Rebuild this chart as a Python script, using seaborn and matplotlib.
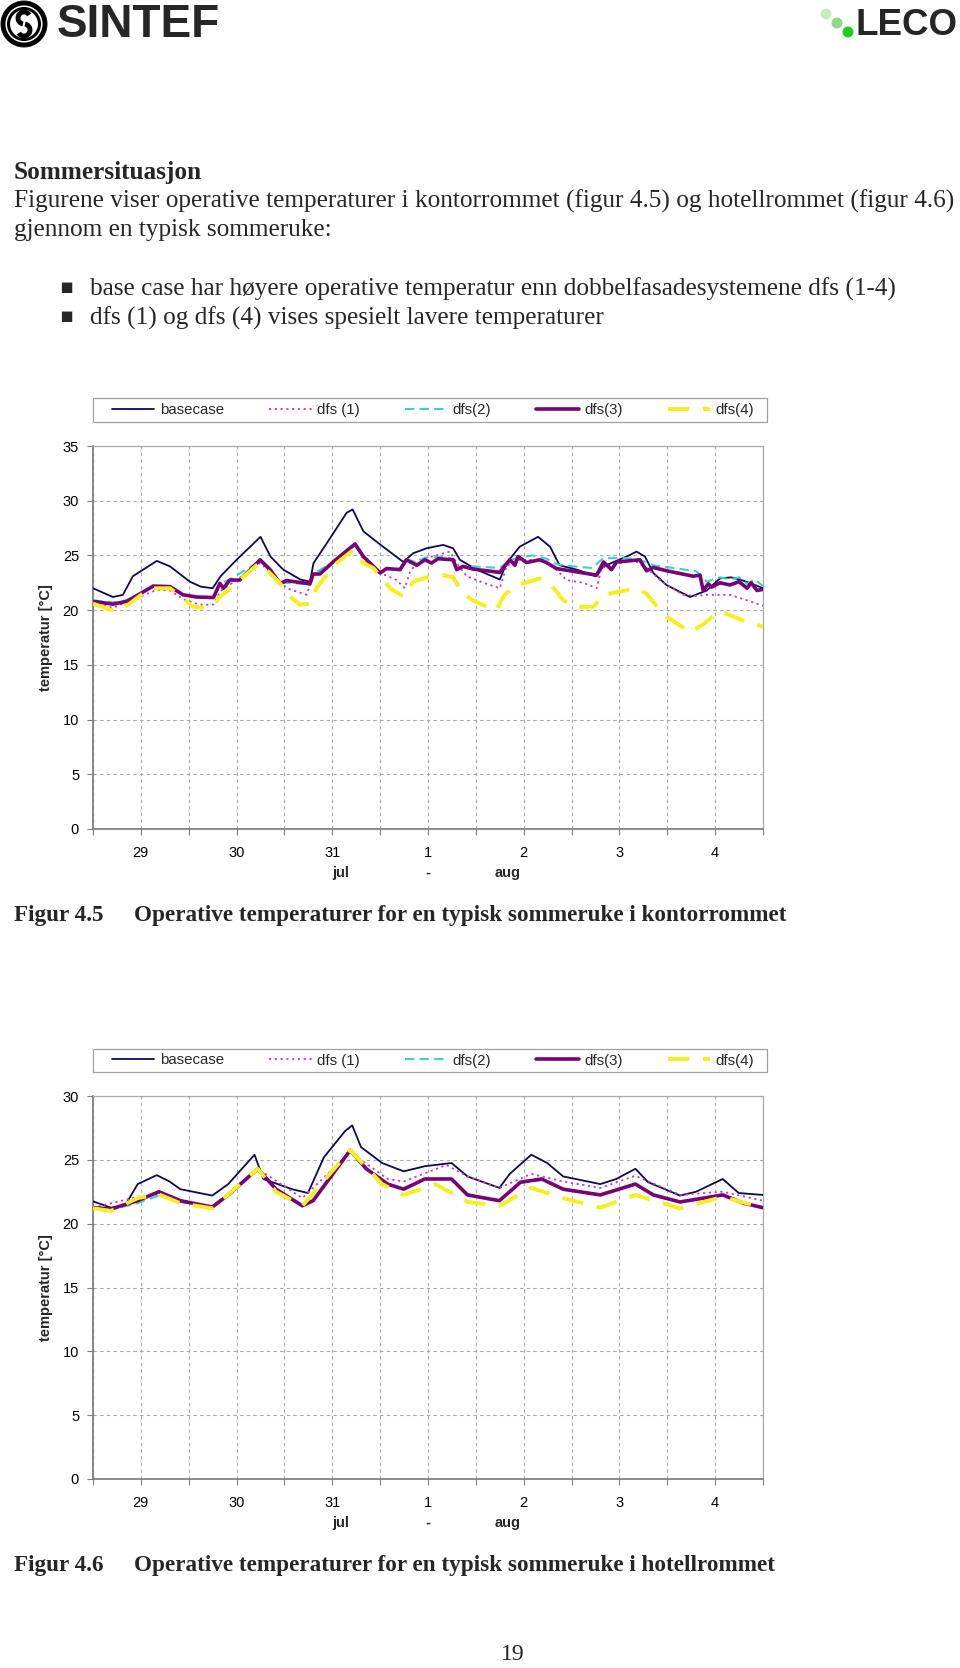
import numpy as np
import pandas as pd
import matplotlib
matplotlib.use("Agg")
import matplotlib.pyplot as plt
from matplotlib.patches import Circle, Arc, Rectangle
from matplotlib.lines import Line2D
import seaborn as sns

# ---- data: operative temperature [C], hours from 29 jul 00:00 ----
# figur 4.5 kontorrommet
kontor_base_t = [0, 5, 7.5, 10, 16, 19.3, 24.3, 27, 30, 32, 36, 42, 44.5, 47.7, 52, 54.4, 55.3, 58.6, 63.6, 65.1,
                 67.8, 72, 77.8, 80.3, 83.6, 87.8, 90.3, 92, 96.2, 102, 103.7, 107, 111.6, 114.6, 117, 121.3, 126,
                 128, 133.8, 136.3, 138.4, 140.5, 143.8, 149.7, 153.9, 157.2, 160, 163, 166, 168]
kontor_base_T = [22.0, 21.2, 21.4, 23.1, 24.5, 24.0, 22.6, 22.15, 22.0, 23.1, 24.6, 26.7, 24.9, 23.7, 22.8, 22.6,
                 24.3, 26.1, 28.9, 29.2, 27.2, 26.0, 24.4, 25.2, 25.65, 25.96, 25.65, 24.6, 23.7, 22.8, 24.3, 25.8,
                 26.7, 25.8, 24.1, 23.7, 23.1, 24.0, 24.9, 25.35, 24.9, 23.4, 22.3, 21.2, 21.8, 22.9, 23.0, 22.7,
                 22.3, 22.0]

kontor_dfs1_t = [0, 5, 10, 16, 19.3, 22.6, 26.8, 30.2, 31.8, 36, 41.9, 45.2, 48.6, 53.6, 55.2, 58.6, 65.7, 67.8,
                 72, 76.1, 78.2, 79.5, 82, 89.5, 91.2, 93.7, 97.9, 102, 103.7, 106.2, 112.8, 116.2, 118.7, 122.9,
                 126.3, 127.5, 135.5, 138.8, 143, 148, 151.3, 153.9, 159.7, 164, 168]
kontor_dfs1_T = [20.8, 20.2, 21.0, 21.85, 21.8, 21.0, 20.5, 20.5, 21.7, 22.75, 24.3, 23.2, 22.0, 21.4, 23.2, 24.0,
                 25.9, 24.7, 23.4, 22.75, 22.0, 23.55, 24.6, 25.35, 24.3, 23.1, 22.5, 22.0, 24.0, 24.6, 24.6, 23.7,
                 22.75, 22.5, 22.0, 23.85, 24.6, 23.85, 22.5, 21.4, 21.3, 21.4, 21.4, 20.9, 20.4]

kontor_dfs2_t = [0, 5, 8.4, 11.8, 15.1, 19.3, 22.6, 26, 30.2, 31.8, 34.3, 41.9, 44.4, 46.9, 54.4, 55.2, 60.2, 65.7,
                 67.8, 72, 73.6, 77, 78.6, 81.2, 83.2, 86.5, 90.3, 91.2, 95.3, 102, 104.5, 110.3, 113.7, 116.2,
                 120.4, 125.1, 128, 133.8, 137.1, 140.5, 145.5, 151.3, 153.9, 157.2, 159.7, 162, 164, 166, 168]
kontor_dfs2_T = [20.9, 20.7, 20.9, 21.5, 22.2, 22.1, 21.4, 21.2, 21.2, 22.4, 22.8, 24.5, 23.7, 22.5, 22.4, 23.3,
                 24.4, 25.9, 24.9, 23.4, 23.8, 23.8, 24.7, 24.3, 24.8, 24.9, 24.7, 23.9, 24.0, 23.85, 24.6, 25.0,
                 24.7, 24.2, 24.0, 23.85, 24.75, 24.75, 24.6, 24.1, 23.85, 23.55, 22.6, 23.0, 22.8, 23.0, 22.4,
                 22.8, 22.2]

kontor_dfs3_t = [0, 5, 8.4, 11.8, 15.1, 19.3, 22.6, 26, 30.2, 31.8, 32.7, 34.3, 36.8, 41.9, 44.4, 46.9, 48.6, 54.4,
                 55.2, 56.9, 60.2, 65.7, 67.8, 72, 73.6, 77, 78.6, 81.2, 83.2, 84.9, 86.5, 90.3, 91.2, 92.8, 95.3,
                 102, 104.5, 105.8, 106.6, 108.7, 112, 113.7, 116.2, 126.3, 128, 130, 131.3, 137.1, 138.8, 140.5,
                 143.8, 150.5, 152.2, 153, 154.3, 155.1, 157.2, 159.7, 162, 164, 165, 166.5, 168]
kontor_dfs3_T = [20.8, 20.55, 20.8, 21.5, 22.2, 22.15, 21.4, 21.2, 21.15, 22.45, 22.0, 22.75, 22.75, 24.6, 23.7,
                 22.45, 22.7, 22.4, 23.3, 23.3, 24.4, 26.05, 24.9, 23.4, 23.8, 23.7, 24.6, 24.1, 24.6, 24.3, 24.7,
                 24.6, 23.7, 24.0, 23.75, 23.45, 24.6, 24.1, 24.9, 24.35, 24.6, 24.35, 23.8, 23.2, 24.4, 23.7, 24.4,
                 24.6, 23.6, 23.9, 23.6, 23.1, 23.2, 21.8, 22.4, 22.1, 22.5, 22.3, 22.6, 22.0, 22.5, 21.8, 21.9]

kontor_dfs4_t = [0, 5.9, 9.2, 14.2, 19.3, 22.6, 25.1, 28.4, 30.6, 31.8, 33.5, 41, 41.9, 46.9, 49.4, 51.9, 54.4, 56,
                 58.6, 61.1, 65.3, 67.8, 70.3, 74.5, 77.8, 80.3, 84.5, 87.8, 90.3, 92.8, 95.3, 98.7, 101.2, 102.9,
                 105.4, 107.9, 112, 114.6, 117.9, 121.3, 125.5, 128, 132.1, 136.3, 138.8, 142.2, 143.8, 149.7, 153,
                 157, 160, 164, 168]
kontor_dfs4_T = [20.6, 19.85, 20.6, 22.0, 22.0, 21.1, 20.3, 20.2, 20.6, 21.25, 21.7, 24.1, 24.3, 22.45, 21.25, 20.5,
                 20.6, 22.0, 23.2, 24.3, 25.5, 24.3, 23.85, 22.0, 21.25, 22.6, 23.1, 23.2, 23.0, 21.5, 20.9, 20.3,
                 20.0, 21.25, 22.15, 22.45, 22.9, 22.45, 20.9, 20.3, 20.3, 21.4, 21.7, 22.0, 21.5, 20.0, 19.4, 18.0,
                 18.7, 19.9, 19.5, 18.9, 18.5]

# figur 4.6 hotellrommet
hotell_base_t = [0, 4.5, 8, 11.2, 16, 19.2, 21.9, 29.9, 33.9, 40.5, 42.7, 49.9, 53.9, 57.9, 63.2, 65, 67.2, 72.5,
                 77.9, 83.2, 89.9, 93.9, 101.9, 104.5, 109.9, 113.9, 117.9, 127.2, 131.2, 136, 139.2, 147.2, 151.2,
                 157.9, 161.9, 168]
hotell_base_T = [21.75, 21.25, 21.4, 23.1, 23.8, 23.3, 22.7, 22.2, 23.1, 25.4, 23.5, 22.7, 22.4, 25.2, 27.25, 27.7,
                 26.0, 24.75, 24.1, 24.5, 24.75, 23.7, 22.8, 23.9, 25.4, 24.75, 23.7, 23.1, 23.5, 24.3, 23.25, 22.2,
                 22.5, 23.5, 22.4, 22.25]

hotell_dfs1_t = [0, 11.2, 16.5, 21.9, 29.9, 41.3, 52.5, 64.5, 73.9, 77.9, 88.6, 93.9, 101.9, 109.9, 117.9, 127.2,
                 136, 147.2, 157.9, 168]
hotell_dfs1_T = [21.25, 22.1, 22.3, 21.7, 21.3, 24.3, 22.0, 25.6, 23.5, 23.3, 24.6, 23.7, 22.8, 23.9, 23.3, 22.8,
                 23.75, 22.25, 22.5, 21.8]

hotell_dfs2_t = [0, 4.5, 11.2, 16.5, 21.9, 29.9, 33.9, 41.3, 45.9, 52.5, 55.2, 64.5, 68.5, 73.9, 77.9, 83.2, 89.9,
                 93.9, 101.9, 107.2, 112.5, 117.9, 127.2, 136, 140.5, 147.2, 157.9, 163.2, 168]
hotell_dfs2_T = [21.2, 21.1, 21.6, 22.2, 21.7, 21.3, 22.2, 24.2, 22.7, 21.4, 21.8, 25.7, 24.3, 23.1, 22.8, 23.5,
                 23.5, 22.3, 21.8, 23.2, 23.4, 22.7, 22.3, 23.1, 22.3, 21.7, 22.3, 21.6, 21.3]

hotell_dfs3_t = [0, 4.5, 11.2, 16.5, 21.9, 29.9, 33.9, 41.3, 45.9, 52.5, 55.2, 64.5, 68.5, 73.9, 77.9, 83.2, 89.9,
                 93.9, 101.9, 107.2, 112.5, 117.9, 127.2, 136, 140.5, 147.2, 157.9, 163.2, 168]
hotell_dfs3_T = [21.25, 21.15, 21.8, 22.5, 21.8, 21.3, 22.25, 24.3, 22.7, 21.4, 21.8, 25.75, 24.3, 23.1, 22.7, 23.5,
                 23.5, 22.25, 21.8, 23.25, 23.5, 22.7, 22.25, 23.1, 22.25, 21.7, 22.25, 21.6, 21.25]

hotell_dfs4_t = [0, 4.5, 11.2, 16.5, 21.9, 29.9, 41.3, 45.9, 52.5, 64.5, 72.5, 77.9, 85.9, 93.9, 101.9, 109.9,
                 117.9, 127.2, 136, 147.2, 157.9, 168]
hotell_dfs4_T = [21.2, 21.0, 22.0, 22.3, 21.6, 21.2, 24.3, 22.5, 21.4, 25.75, 23.1, 22.25, 23.1, 21.7, 21.4, 22.8,
                 22.0, 21.25, 22.25, 21.2, 22.1, 21.25]

series_names = ["basecase", "dfs (1)", "dfs(2)", "dfs(3)", "dfs(4)"]
day_labels = ["29", "30", "31", "1", "2", "3", "4"]

STYLES = {
    "basecase": dict(color="#0a0a55", lw=1.3, ls="-"),
    "dfs (1)": dict(color="#c03cc8", lw=1.3, ls=(0, (1.2, 2.0))),
    "dfs(2)": dict(color="#3ccfd6", lw=1.5, ls=(0, (4.5, 2.5))),
    "dfs(3)": dict(color="#780078", lw=2.6, ls="-"),
    "dfs(4)": dict(color="#f4f01c", lw=2.8, ls=(0, (5.5, 3.5))),
}

W, H = 960, 1668
SERIF = ["Liberation Serif", "DejaVu Serif"]
SANS = ["Liberation Sans", "DejaVu Sans"]

sns.set_style("white")
plt.rcParams["font.family"] = SANS


def fx(x):
    return x / W


def fy(y):
    return 1 - y / H


def draw_chart(fig, page, top, bottom, ymax, data, legend_top, legend_bottom):
    ax = fig.add_axes([fx(93), fy(bottom), fx(763) - fx(93), (bottom - top) / H])
    for name, (t, T) in zip(series_names, data):
        st = STYLES[name]
        sns.lineplot(x=t, y=T, ax=ax, color=st["color"], linewidth=st["lw"],
                     linestyle=st["ls"], label=name, zorder=3)
    ax.set_xlim(0, 168)
    ax.set_ylim(0, ymax)
    ax.set_xticks(np.arange(0, 169, 12))
    ax.set_xticklabels(["" if i % 2 == 0 else day_labels[i // 2] for i in range(15)])
    ax.set_yticks(np.arange(0, ymax + 1, 5))
    ax.grid(True, color="#a8a8a8", linestyle=(0, (3, 3)), linewidth=0.8)
    ax.tick_params(axis="both", direction="out", length=4, width=0.8, color="#808080",
                   labelsize=10.5, labelcolor="black", bottom=True, left=True)
    ax.tick_params(axis="x", pad=8)
    ax.tick_params(axis="y", pad=6)
    for side in ["left", "bottom"]:
        ax.spines[side].set_color("#777777")
        ax.spines[side].set_linewidth(1.2)
    for side in ["top", "right"]:
        ax.spines[side].set_color("#aaaaaa")
        ax.spines[side].set_linewidth(0.9)
    ax.set_xlabel("")
    ax.set_ylabel("")

    tr = ax.get_xaxis_transform()
    ax.text(62, -0.115, "jul", transform=tr, ha="center", va="center", fontsize=10.5, fontweight="bold")
    ax.text(84, -0.115, "-", transform=tr, ha="center", va="center", fontsize=10.5, fontweight="bold")
    ax.text(104, -0.115, "aug", transform=tr, ha="center", va="center", fontsize=10.5, fontweight="bold")

    # legend: natural spacing, box drawn to the chart's full width
    page.add_patch(Rectangle((93, legend_top), 674, legend_bottom - legend_top, fill=False,
                             edgecolor="#a0a0a0", lw=0.9))
    handles = [Line2D([], [], color=STYLES[n]["color"], lw=STYLES[n]["lw"], ls=STYLES[n]["ls"])
               for n in series_names]
    ax.legend(handles, series_names, loc="center", ncol=5,
              bbox_to_anchor=(fx(433), fy((legend_top + legend_bottom) / 2)),
              bbox_transform=fig.transFigure, borderaxespad=0, frameon=False,
              fontsize=10.8, handlelength=2.85, handletextpad=0.35, columnspacing=3.0,
              borderpad=0.3)

    fig.text(fx(46), fy((top + bottom) / 2), "temperatur [°C]", rotation=90, ha="center", va="center",
             fontsize=10.5, fontweight="bold")
    return ax


def main():
    fig = plt.figure(figsize=(W / 100, H / 100), dpi=100)
    page = fig.add_axes([0, 0, 1, 1])
    page.set_xlim(0, W)
    page.set_ylim(H, 0)
    page.axis("off")

    # logos
    page.add_patch(Circle((24, 24), 21, fill=False, lw=3.5, color="black"))
    page.add_patch(Circle((24, 24), 15.5, fill=False, lw=2.2, color="black"))
    page.add_patch(Arc((24, 18), 12, 12, theta1=100, theta2=330, lw=3.5, color="black"))
    page.add_patch(Arc((24, 30), 12, 12, theta1=280, theta2=150, lw=3.5, color="black"))
    page.text(57, 25, "SINTEF", fontsize=33, fontweight="bold", ha="left", va="center", family=SANS)
    for (cx, cy), c in zip([(826, 14), (837, 23), (848, 32)], ["#c8ecc0", "#8ed88a", "#22cc22"]):
        page.add_patch(Circle((cx, cy), 5.5, color=c, lw=0))
    page.text(855, 25, "LECO", fontsize=26.5, fontweight="bold", ha="left", va="center", family=SANS)

    # body text
    body = dict(fontsize=18.2, family=SERIF, ha="left", va="center")
    cap = dict(fontsize=16.7, family=SERIF, ha="left", va="center", fontweight="bold")
    page.text(14, 172, "Sommersituasjon", fontweight="bold", **body)
    page.text(14, 201, "Figurene viser operative temperaturer i kontorrommet (figur 4.5) og hotellrommet (figur 4.6)",
              **body)
    page.text(14, 230, "gjennom en typisk sommeruke:", **body)
    for y, s in [(289, "base case har høyere operative temperatur enn dobbelfasadesystemene dfs (1-4)"),
                 (318, "dfs (1) og dfs (4) vises spesielt lavere temperaturer")]:
        page.text(66, y - 2, "\u25aa", fontsize=15, family=["DejaVu Sans"], ha="center", va="center")
        page.text(90, y, s, **body)

    page.text(14, 915, "Figur 4.5", **cap)
    page.text(134, 915, "Operative temperaturer for en typisk sommeruke i kontorrommet", **cap)
    page.text(14, 1566, "Figur 4.6", **cap)
    page.text(134, 1566, "Operative temperaturer for en typisk sommeruke i hotellrommet", **cap)
    page.text(513, 1654, "19", fontsize=17, family=SERIF, ha="center", va="center")

    kontor = [(kontor_base_t, kontor_base_T), (kontor_dfs1_t, kontor_dfs1_T), (kontor_dfs2_t, kontor_dfs2_T),
              (kontor_dfs3_t, kontor_dfs3_T), (kontor_dfs4_t, kontor_dfs4_T)]
    hotell = [(hotell_base_t, hotell_base_T), (hotell_dfs1_t, hotell_dfs1_T), (hotell_dfs2_t, hotell_dfs2_T),
              (hotell_dfs3_t, hotell_dfs3_T), (hotell_dfs4_t, hotell_dfs4_T)]

    draw_chart(fig, page, 446, 829, 35, kontor, 398, 422)
    draw_chart(fig, page, 1096, 1479, 30, hotell, 1049, 1072)

    fig.savefig("out.png", dpi=100)


if __name__ == "__main__":
    main()
